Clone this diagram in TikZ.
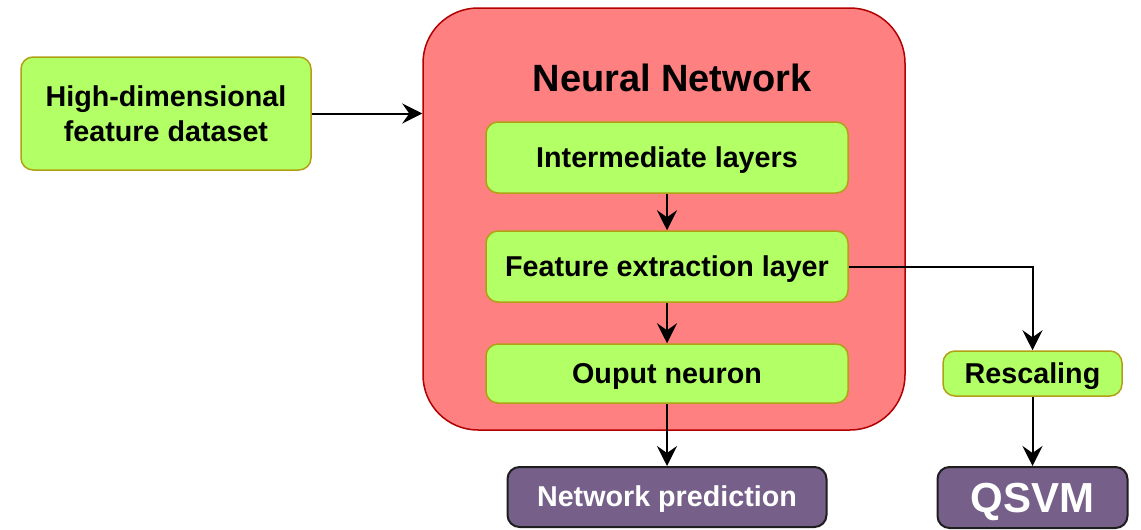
\documentclass[tikz,border=0pt]{standalone}
\usepackage{fontspec}
\setmainfont{Liberation Sans}
\usetikzlibrary{arrows.meta}
\definecolor{boxgreen}{HTML}{B3FF66}
\definecolor{greenedge}{RGB}{178,160,20}
\definecolor{netred}{HTML}{FF8080}
\definecolor{rededge}{HTML}{B20000}
\definecolor{outpurple}{HTML}{76608A}
\definecolor{purpleedge}{RGB}{30,30,30}
\tikzset{
  gbox/.style={draw=greenedge, fill=boxgreen, line width=1.5pt, rounded corners=12pt,
    inner sep=0pt, align=center, font=\fontsize{28.7}{35}\selectfont\bfseries},
  pbox/.style={draw=purpleedge, fill=outpurple, line width=2pt, rounded corners=12pt,
    inner sep=0pt, align=center, text=white, font=\fontsize{28.7}{35}\selectfont\bfseries},
  oneline/.style={text height=26pt, text depth=6.1pt},
  netbox/.style={draw=rededge, fill=netred, line width=1.5pt, rounded corners=55pt, inner sep=0pt},
  flow/.style={line width=2pt, -{Stealth[length=20pt, width=20pt, inset=7pt]}},
}
\begin{document}
\begin{tikzpicture}[x=1pt, y=-1pt]
\useasboundingbox (0,0) rectangle (1141,530);
% network container and its title
\node[netbox, minimum width=482pt, minimum height=422pt] (nn) at (664,219) {};
\node[font=\fontsize{38}{44}\selectfont\bfseries] (title) at (672,78) {Neural Network};
% layers inside the network
\node[gbox, oneline, minimum width=362pt, minimum height=71pt] (il) at (667,157.5) {Intermediate layers};
\node[gbox, oneline, minimum width=362pt, minimum height=71pt] (fe) at (667,266.5) {Feature extraction layer};
\node[gbox, oneline, minimum width=362pt, minimum height=59pt] (on) at (667,373.5) {Ouput neuron};
% input and outputs
\node[gbox, minimum width=290pt, minimum height=113pt] (hd) at (166,113.5) {High-dimensional\\feature dataset};
\node[gbox, oneline, minimum width=179pt, minimum height=45pt] (rs) at (1032.5,373.5) {Rescaling};
\node[pbox, oneline, minimum width=319pt, minimum height=60pt] (np) at (667,497) {Network prediction};
\node[pbox, minimum width=190pt, minimum height=61pt, text height=38pt, text depth=8.9pt,
  font=\fontsize{42}{48}\selectfont\bfseries] (qs) at (1032.5,497.5) {QSVM};
% connectors
\draw[flow] (hd.east) -- (hd.east -| nn.west);
\draw[flow] (il) -- (fe);
\draw[flow] (fe) -- (on);
\draw[flow] (on) -- (np);
\draw[flow] (fe.east) -| (rs.north);
\draw[flow] (rs) -- (qs);
\end{tikzpicture}
\end{document}
